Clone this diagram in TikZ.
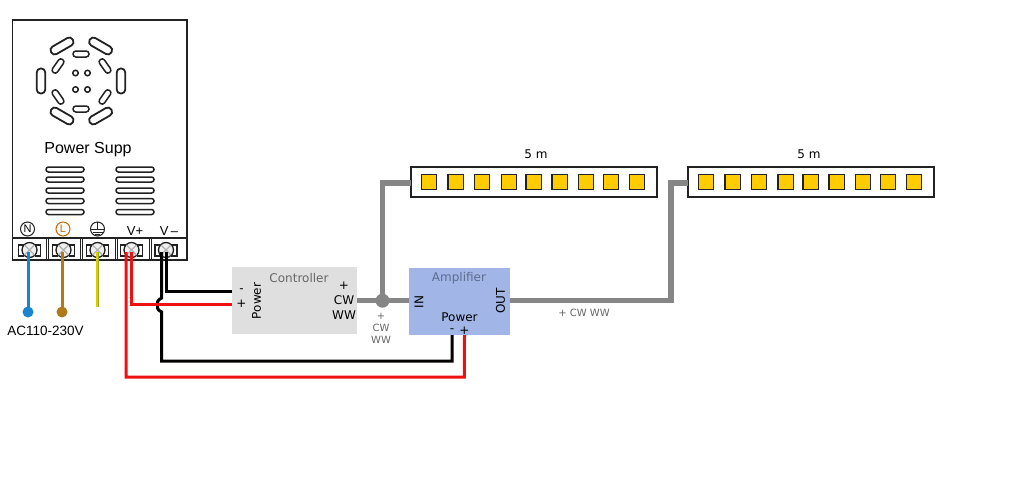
\documentclass[tikz,border=0pt]{standalone}
\usepackage{fontspec}
\setmainfont{DejaVu Sans}
\newfontfamily\arialf{Liberation Sans}
\usetikzlibrary{calc}
\definecolor{wgray}{HTML}{868686}
\definecolor{wred}{HTML}{EE1111}
\definecolor{wblue}{HTML}{1B84CF}
\definecolor{wbrown}{HTML}{B07A1A}
\definecolor{wyel}{HTML}{E6C800}
\definecolor{wgreen}{HTML}{8FB51E}
\definecolor{ctrlfill}{HTML}{DFDFDF}
\definecolor{ampfill}{HTML}{A1B5E6}
\definecolor{ledfill}{HTML}{FFCC00}
\definecolor{ltxt}{HTML}{666666}
\definecolor{atxt}{HTML}{5C6C8E}
\definecolor{ink}{HTML}{222222}
\tikzset{
 every node/.style={inner sep=0pt,outer sep=0pt},
 psu/.style={draw=ink,line width=1.5pt,fill=white,minimum width=174.5pt,minimum height=240pt},
 cell/.style={draw=ink,line width=.9pt},
 longpill/.style={draw=ink,line width=1.8pt,fill=white,rounded corners=3.9pt,minimum width=25pt,minimum height=8.5pt},
 midpill/.style={draw=ink,line width=1.5pt,fill=white,rounded corners=2.9pt,minimum width=16pt,minimum height=6pt},
 ventbar/.style={draw=ink,line width=1.5pt,fill=white,rounded corners=2.4pt,minimum width=38pt,minimum height=5pt},
 holedot/.style={draw=ink,line width=1.5pt,fill=white,circle,minimum size=5.5pt},
 wire/.style={line width=3pt},
 bus/.style={line width=5.5pt,draw=wgray},
 strip/.style={draw=ink,line width=1.3pt,fill=white,minimum width=246pt,minimum height=30pt},
 led/.style={draw=ink,line width=1.3pt,fill=ledfill,minimum size=15.5pt},
 ctrlbox/.style={fill=ctrlfill,minimum width=125pt,minimum height=67pt},
 ampbox/.style={fill=ampfill,minimum width=101pt,minimum height=67.5pt},
 lab/.style={font=\fontsize{12}{12}\selectfont,text=black},
 smalllab/.style={font=\fontsize{10}{10}\selectfont,text=ltxt},
 sym/.style={circle,draw=ink,line width=1pt,minimum size=14pt,font=\arialf\fontsize{11}{11}\selectfont},
 tab/.style={draw=ink,line width=1.2pt,fill=white},
 screw/.style={circle,draw=ink,line width=1.3pt,fill=black!6,minimum size=15pt},
}
\begin{document}
\begin{tikzpicture}[x=1pt,y=-1pt]
\useasboundingbox (0,0) rectangle (1024,477);
% power supply
\node[psu] (psu) at (99.7,140) {};
\foreach \x/\y/\a in {62/46/30,100.6/46/-30,62/116/-30,100.6/116/30,41/81/90,121/81/90}
  \node[longpill,rotate=\a] (lp\x\y) at (\x,\y) {};
\foreach \x/\y/\a in {81/54/0,81/109/0,58/66/55,105/66/-55,58/97/-55,105/97/55}
  \node[midpill,rotate=\a] (mp\x\y) at (\x,\y) {};
\foreach \x/\y in {75.5/73,87.5/73,75.5/89.5,87.5/89.5}
  \node[holedot] (hole\x\y) at (\x,\y) {};
\node[font=\arialf\fontsize{16}{16}\selectfont] (psutitle) at (88,149.5) {Power Supp};
\foreach \y in {169.5,179.5,190.5,201,212}{
  \node[ventbar] (va\y) at (65,\y) {};
  \node[ventbar] (vb\y) at (135,\y) {};
}
\draw[cell,line width=1.3pt] (12.5,238) -- (187,238);
\foreach \x in {46,80.5,115,149}{
  \draw[cell] (\x,238) -- (\x,260);
  \draw[cell] (\x+2,238) -- (\x+2,260);
}
% terminals
\foreach \n/\x in {tn/29.5,tl/63.5,te/97.5,tp/131.5,tm/166}{
  \draw[tab] (\x-11,245) -- (\x-6,245) -- (\x-6,256) -- (\x-11,256) -- cycle;
  \draw[tab] (\x+11,245) -- (\x+6,245) -- (\x+6,256) -- (\x+11,256) -- cycle;
  \node[screw] (\n) at (\x,250) {};
  \draw[black!30,line width=1.3pt] (\x-5,245) -- (\x+5,255) (\x+5,245) -- (\x-5,255);
}
\node[sym] (symn) at (27.5,229) {N};
\node[sym,draw=orange!80!black,text=orange!80!black] (syml) at (63,229) {L};
\node[sym] (syme) at (97.5,229) {};
\draw[ink,line width=.9pt] (syme.west) -- (syme.east) (97.5,222) -- (97.5,229) (92.5,232) -- (102.5,232) (95,234.5) -- (100,234.5);
\node[font=\arialf\fontsize{13}{13}\selectfont] (vp) at (135,231) {V+};
\node[font=\arialf\fontsize{13}{13}\selectfont] (vm) at (169,231) {V\,–};
% AC wires
\node[circle,fill=wblue,minimum size=11pt] (acn) at (28,312) {};
\node[circle,fill=wbrown,minimum size=11pt] (acl) at (62,312) {};
\coordinate (ace) at (98,307);
\draw[wire,wblue] (28,252) -- (acn);
\draw[wire,wbrown] (62,252) -- (acl);
\draw[line width=1.5pt,wyel] (97.2,252) -- (97.2,307);
\draw[line width=1.5pt,wgreen] (98.7,252) -- (98.7,307);
\node[font=\arialf\fontsize{13.5}{13.5}\selectfont] (ac) at (45.5,330.5) {AC110-230V};
% controller
\node[ctrlbox] (ctrl) at (294.5,300.8) {};
\node[font=\fontsize{12}{12}\selectfont,text=ltxt] (ctitle) at (299,278.5) {Controller};
\node[lab] (cminus) at (241.5,291) {-};
\node[lab] (cplus) at (241.5,304) {+};
\node[lab,rotate=90] (cpow) at (256.5,301) {Power};
\node[lab] (cop) at (344,286) {+};
\node[lab] (ocw) at (344,300) {CW};
\node[lab] (oww) at (344,315) {WW};
% amplifier
\node[ampbox] (amp) at (459.5,301.4) {};
\node[font=\fontsize{12}{12}\selectfont,text=atxt] (atitle) at (459,278.5) {Amplifier};
\node[lab,rotate=90] (ain) at (419,302) {IN};
\node[lab,rotate=90] (aout) at (500.5,301) {OUT};
\node[lab] (apow) at (459.5,317) {Power};
\node[lab] (aminus) at (452,331) {-};
\node[lab] (aplus) at (464.5,331) {+};
% strips
\node[strip] (s1) at (534,182) {};
\node[strip] (s2) at (811,182) {};
\node[lab] (l1) at (536,154) {5 m};
\node[lab] (l2) at (809,154) {5 m};
\foreach \x in {429,455.7,482,509,533.7,559.7,586,611,637}
  \node[led] (la\x) at (\x,182) {};
\foreach \x in {706,732.7,759,785.7,810.7,836.7,863,888,914}
  \node[led] (lb\x) at (\x,182) {};
% gray bus
\coordinate (j) at (382.5,300.7);
\coordinate (bend) at (671,300.7);
\coordinate (s1in) at ($(s1.west)+(0,1)$);
\coordinate (s2in) at ($(s2.west)+(0,1)$);
\draw[bus] (ctrl.east|-j) -- (amp.west|-j);
\draw[bus] (j) |- (s1in);
\draw[bus] (amp.east|-bend) -- (bend) |- (s2in);
\node[circle,fill=wgray,minimum size=14pt] (jdot) at (j) {};
\node[smalllab] (t1) at (381,316) {+};
\node[smalllab] (t2) at (381,328) {CW};
\node[smalllab] (t3) at (381,340) {WW};
\node[smalllab] (t4) at (584,313) {+ CW WW};
% DC wires
\draw[wire,wred,line join=miter] (126,252) -- (126,377) -- (464.3,377) -- (amp.south-|aplus);
\draw[wire,black] (161.7,252) -- (161.7,298) .. controls (157,300) and (157,303) .. (157.5,305) .. controls (157,307) and (157,310) .. (161.7,312) -- (161.7,361) -- (452,361) -- (amp.south-|aminus);
\draw[wire,wred] (131.7,252) |- (ctrl.west|-cplus);
\draw[wire,black] (166,252) |- (ctrl.west|-cminus);
\end{tikzpicture}
\end{document}
